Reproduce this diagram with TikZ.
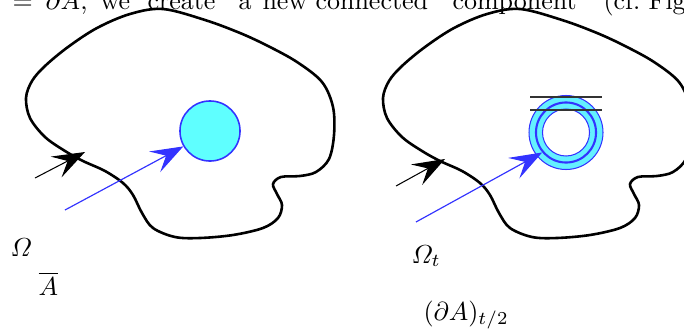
\documentclass[tikz,border=0pt]{standalone}
\usepackage{amsmath}
\usetikzlibrary{arrows.meta}
\definecolor{myblue}{RGB}{51,51,255}
\definecolor{mycyan}{RGB}{95,255,255}
\definecolor{ringcyan}{RGB}{100,240,255}
\begin{document}
\begin{tikzpicture}[x=0.3846pt,y=-0.3846pt,
  blob/.style={line width=1pt, line join=round},
  bigtip/.style={-{Stealth[length=12.5pt,width=9pt,inset=5pt]}},
  blackarrow/.style={bigtip, line width=0.4pt, black},
  bluearrow/.style={bigtip, line width=0.45pt, myblue},
  lbl/.style={inner sep=0pt, anchor=base west},
  disc/.style={circle, draw=myblue, line width=0.6pt, fill=mycyan, minimum size=23.1pt, inner sep=0pt},
  ringmid/.style={circle, draw=myblue, line width=0.8pt, minimum size=23.1pt, inner sep=0pt},
  barline/.style={line width=0.4pt, black!80},
]
\useasboundingbox (0,0) rectangle (684,329);

% clipped line of running text at the top
\node[lbl] (w1) at (12,9.5) {$=$};
\node[lbl] (w2) at (45,9.5) {$\partial A$,};
\node[lbl] (w3) at (100,9.5) {we};
\node[lbl] (w4) at (147,9.5) {create};
\node[lbl] (w5) at (238,9.5) {a};
\node[lbl] (w6) at (262,9.5) {new};
\node[lbl] (w7) at (315,9.5) {connected};
\node[lbl] (w8) at (452,9.5) {component};
\node[lbl] (w9) at (603,9.5) {(cf.};
\node[lbl] (w10) at (648,9.5) {Figure};

% the two domains
\foreach \dx in {0,357}{
\begin{scope}[shift={(\dx,0)}]
\draw[blob] plot[smooth cycle, tension=0.55] coordinates {
 (163,9) (205,20) (240,33) (268,46) (297,62) (322,82) (333,107) (334,135)
 (329,159) (316,172) (300,176) (281,177) (273,184) (277,194) (282,205)
 (278,218) (263,228) (233,235) (200,238) (175,237) (153,228) (142,213)
 (133,195) (123,183) (105,171) (83,161) (65,151) (45,137) (30,118)
 (26,98) (32,81) (45,66) (68,47) (97,28) (130,14)};
\end{scope}}

% left picture
\node[disc] (c1) at (210,131) {};
\coordinate (b1s) at (35,178);
\coordinate (b1e) at (85,152);
\draw[blackarrow] (b1s) -- (b1e);
\coordinate (u1s) at (65,210);
\draw[bluearrow] (u1s) -- (c1.210);

% right picture
\fill[ringcyan, even odd rule] (566,132.5) circle[radius=37] (566,132.5) circle[radius=23.5];
\draw[myblue, line width=0.4pt] (566,132.5) circle[radius=37];
\draw[myblue, line width=0.4pt] (566,132.5) circle[radius=23.5];
\node[ringmid] (c2) at (566,132.5) {};
\coordinate (h1a) at (530,97);
\coordinate (h1b) at (602,97);
\coordinate (h2a) at (530,110);
\coordinate (h2b) at (602,110);
\draw[barline] (h1a) -- (h1b);
\draw[barline] (h2a) -- (h2b);
\coordinate (b2s) at (396,186);
\coordinate (b2e) at (445,159);
\draw[blackarrow] (b2s) -- (b2e);
\coordinate (u2s) at (416,222);
\draw[bluearrow] (u2s) -- (c2.220);

% labels
\node[lbl] (om) at (10,256) {$\varOmega$};
\node[lbl] (abar) at (38,295) {$\overline{A}$};
\node[lbl] (omt) at (411,263) {$\varOmega_t$};
\node[lbl] (dat) at (423,320) {$(\partial A)_{t/2}$};
\end{tikzpicture}
\end{document}
